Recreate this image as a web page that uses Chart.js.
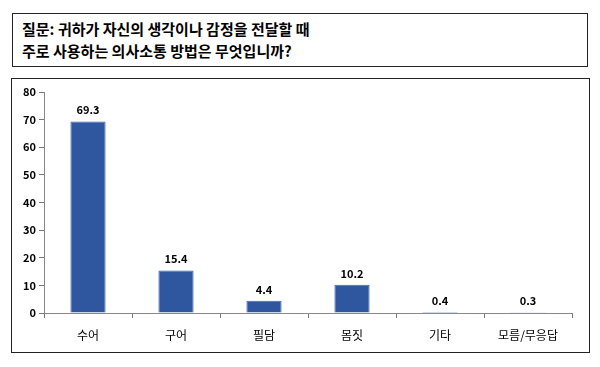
<!DOCTYPE html>
<html>
<head>
<meta charset="utf-8">
<script src="https://cdn.jsdelivr.net/npm/chart.js@4"></script>
<style>
  body { margin: 0; background: #fff; width: 600px; height: 367px; position: relative; overflow: hidden; }
  #title {
    position: absolute; left: 12px; top: 13px; width: 574px; height: 52px;
    border: 1.5px solid #222; box-sizing: content-box;
    font-family: "Noto Sans CJK KR", sans-serif; font-weight: bold; font-size: 15px;
    line-height: 22px; padding: 0; color: #000;
  }
  #title div { padding-left: 9px; }
  #box {
    position: absolute; left: 11px; top: 78px; width: 577px; height: 273px;
    border: 1.5px solid #222;
  }
  #box canvas { position: absolute; left: 0; top: 0; }
</style>
</head>
<body>
<div id="title"><div style="margin-top:4px">질문: 귀하가 자신의 생각이나 감정을 전달할 때</div><div>주로 사용하는 의사소통 방법은 무엇입니까?</div></div>
<div id="box"><canvas id="myChart" width="577" height="273"></canvas></div>
<script>
    // Data for the chart
    const categories = ['수어', '구어', '필담', '몸짓', '기타', '모름/무응답'];
    const percents = [69.3, 15.4, 4.4, 10.2, 0.4, 0.3];
    const yTicks = [0, 10, 20, 30, 40, 50, 60, 70, 80];

    const fontFamily = '"Noto Sans CJK KR", sans-serif';

    // Value labels above each bar
    const valueLabels = {
        id: 'valueLabels',
        afterDatasetsDraw(chart) {
            const c = chart.ctx;
            const meta = chart.getDatasetMeta(0);
            c.save();
            c.font = 'bold 11px ' + fontFamily;
            c.fillStyle = '#000';
            c.textAlign = 'center';
            c.textBaseline = 'bottom';
            meta.data.forEach((bar, i) => {
                c.fillText(percents[i].toFixed(1), bar.x, bar.y - 6);
            });
            c.restore();
        }
    };

    const ctx = document.getElementById('myChart').getContext('2d');
    const myChart = new Chart(ctx, {
        type: 'bar',
        data: {
            labels: categories,
            datasets: [{
                data: percents,
                backgroundColor: 'rgb(47, 87, 160)',
                borderColor: 'rgb(62, 102, 178)',
                borderWidth: 1,
                barPercentage: 0.4,
                categoryPercentage: 1
            }]
        },
        options: {
            responsive: false,
            animation: false,
            layout: { padding: { top: 13, right: 17, left: 0, bottom: 0 } },
            plugins: { legend: { display: false }, tooltip: { enabled: false } },
            scales: {
                x: {
                    offset: true,
                    grid: { display: true, offset: true, drawOnChartArea: false, tickLength: 5, color: '#777' },
                    border: { color: '#888', width: 1 },
                    ticks: { color: '#000', font: { family: fontFamily, size: 12 }, padding: 10 },
                    afterFit(scale) { scale.height = 39; }
                },
                y: {
                    min: 0, max: 80,
                    afterBuildTicks(scale) { scale.ticks = yTicks.map(v => ({ value: v })); },
                    grid: { display: true, drawOnChartArea: false, tickLength: 5, color: '#777' },
                    border: { color: '#888', width: 1 },
                    ticks: { color: '#000', font: { family: fontFamily, size: 11, weight: 'bold' }, padding: 3 },
                    afterFit(scale) { scale.width = 32; }
                }
            }
        },
        plugins: [valueLabels]
    });
</script>
</body>
</html>
